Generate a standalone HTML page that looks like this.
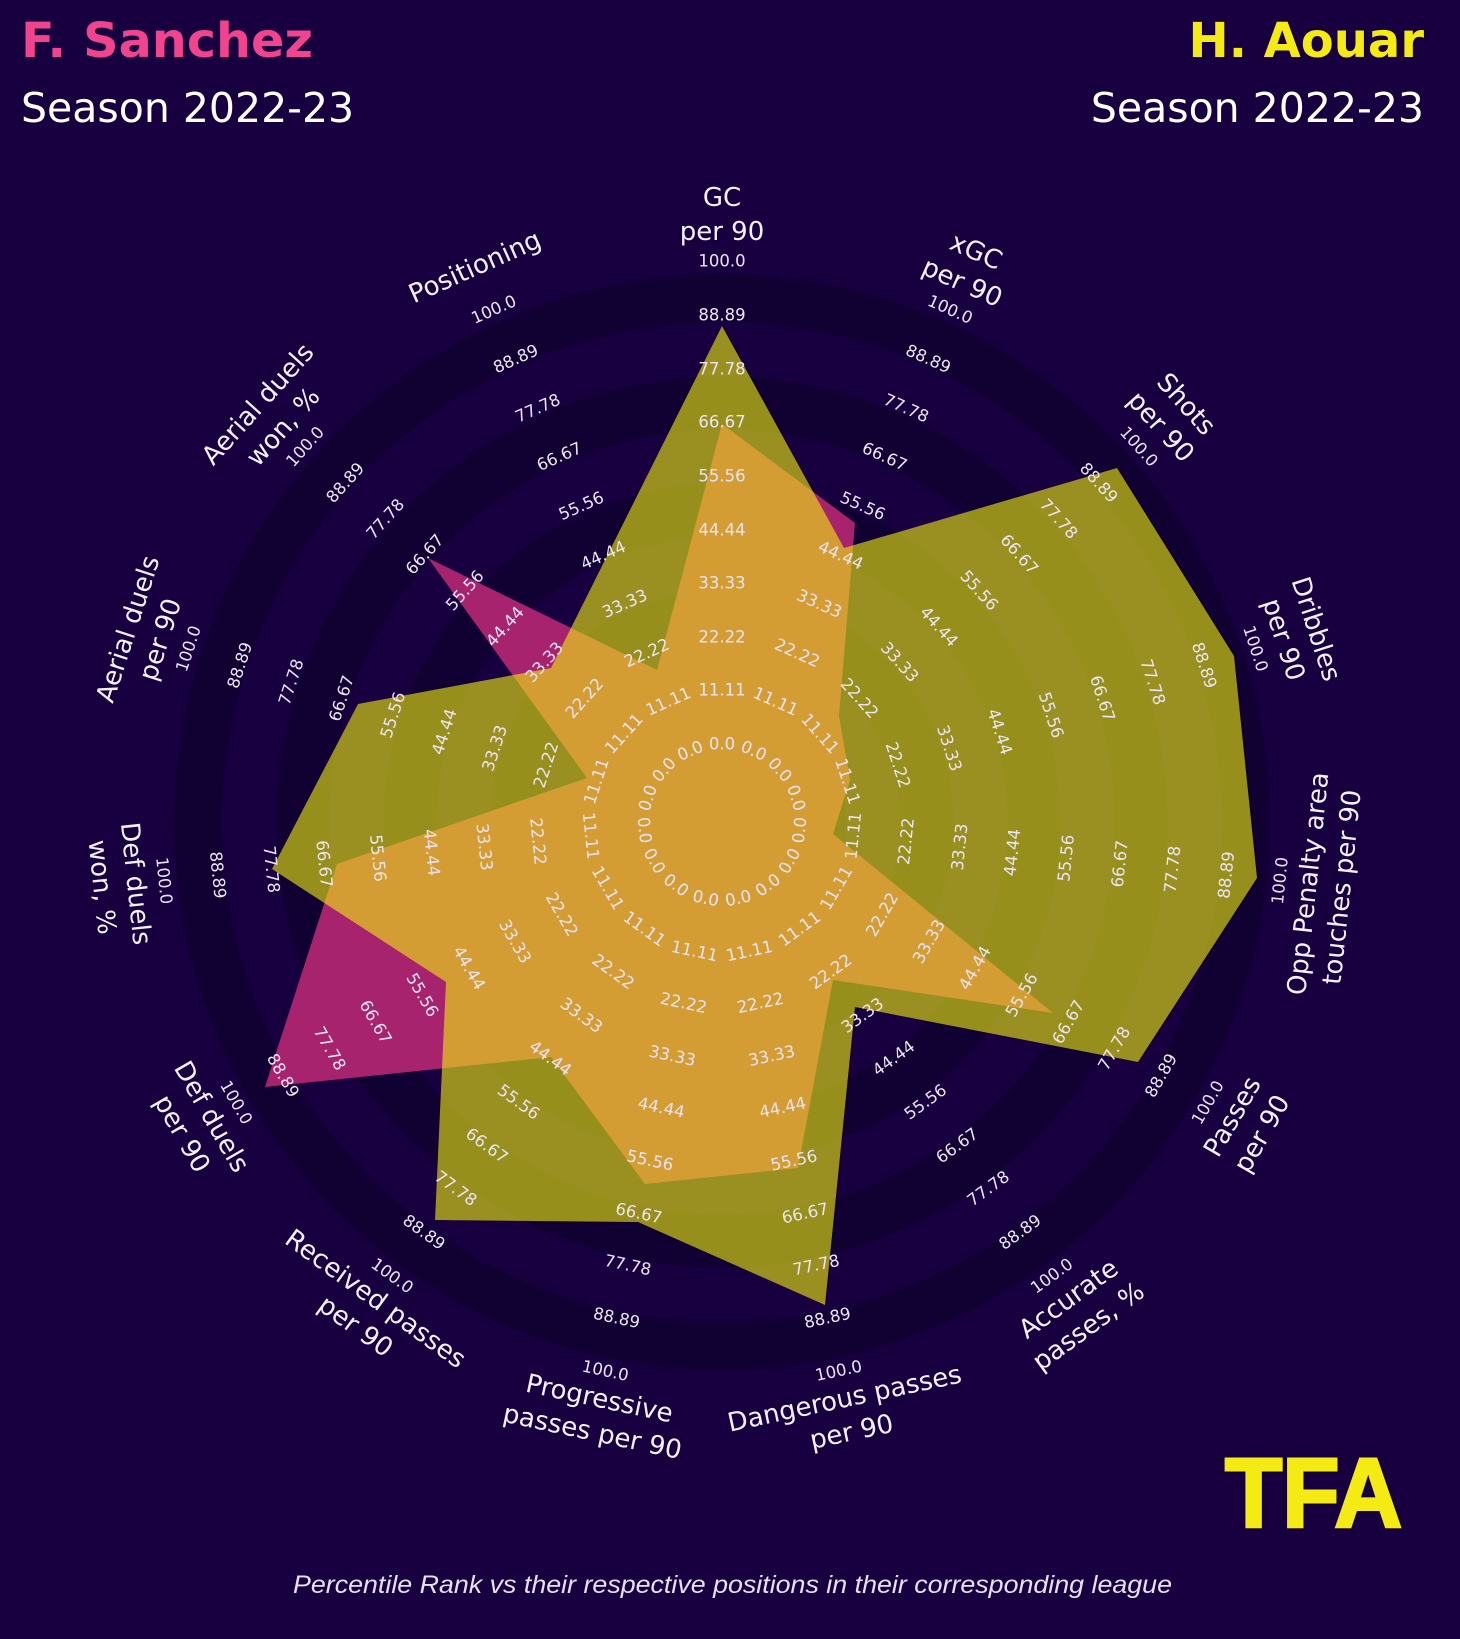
<!DOCTYPE html>
<html><head><meta charset="utf-8"><style>
html,body{margin:0;padding:0;background:#180040;}
svg{display:block;}
.r{font-family:"DejaVu Sans",sans-serif;font-size:16.5px;fill:#ece4f4;text-anchor:middle;dominant-baseline:central;}
.t{font-family:"DejaVu Sans",sans-serif;font-size:26px;fill:#f4f0fa;text-anchor:middle;dominant-baseline:central;}
</style></head><body>
<svg width="1460" height="1639" viewBox="0 0 1460 1639" xmlns="http://www.w3.org/2000/svg">
<rect width="1460" height="1639" fill="#180040"/>
<g fill="none" stroke="#110032">
<circle cx="722" cy="822" r="524" stroke-width="48"/>
<circle cx="722" cy="822" r="419" stroke-width="53"/>
<circle cx="722" cy="822" r="312" stroke-width="53"/>
<circle cx="722" cy="822" r="205" stroke-width="53"/>
<circle cx="722" cy="822" r="98" stroke-width="53"/>
</g>
<polygon fill="#a8236e" points="722,424 855,523 839,716 850,780 833,834 1053,1013 833,980 798,1168 645,1184 551,1057 265,1087 337,864 587,778 428,558 657,670"/>
<polygon fill="#f2ee0d" fill-opacity="0.6" points="722,326 844,548 1117,468 1234,656 1257,878 1138,1062 855,1007 825,1305 638,1222 435,1220 446,982 272,869 358,704 551,668 605,560"/>

<text x="21" y="57" font-family="DejaVu Sans,sans-serif" font-weight="bold" font-size="48" fill="#f0448f" textLength="292" lengthAdjust="spacingAndGlyphs">F. Sanchez</text>
<text x="21" y="122" font-family="DejaVu Sans,sans-serif" font-size="41" fill="#ffffff">Season 2022-23</text>
<text x="1424" y="57" font-family="DejaVu Sans,sans-serif" font-weight="bold" font-size="48" fill="#f5eb14" text-anchor="end">H. Aouar</text>
<text x="1424" y="122" font-family="DejaVu Sans,sans-serif" font-size="41" fill="#ffffff" text-anchor="end">Season 2022-23</text>

<g transform="rotate(0,722,822)">
<text class="r" x="722" y="744">0.0</text><text class="r" x="722" y="690">11.11</text><text class="r" x="722" y="637">22.22</text><text class="r" x="722" y="583">33.33</text><text class="r" x="722" y="530">44.44</text><text class="r" x="722" y="476">55.56</text><text class="r" x="722" y="422">66.67</text><text class="r" x="722" y="369">77.78</text><text class="r" x="722" y="315">88.89</text><text class="r" x="722" y="261">100.0</text>
<text class="t" x="722" y="198">GC</text><text class="t" x="722" y="232">per 90</text></g>
<g transform="rotate(24,722,822)">
<text class="r" x="722" y="744">0.0</text><text class="r" x="722" y="690">11.11</text><text class="r" x="722" y="637">22.22</text><text class="r" x="722" y="583">33.33</text><text class="r" x="722" y="530">44.44</text><text class="r" x="722" y="476">55.56</text><text class="r" x="722" y="422">66.67</text><text class="r" x="722" y="369">77.78</text><text class="r" x="722" y="315">88.89</text><text class="r" x="722" y="261">100.0</text>
<text class="t" x="722" y="198">xGC</text><text class="t" x="722" y="232">per 90</text></g>
<g transform="rotate(48,722,822)">
<text class="r" x="722" y="744">0.0</text><text class="r" x="722" y="690">11.11</text><text class="r" x="722" y="637">22.22</text><text class="r" x="722" y="583">33.33</text><text class="r" x="722" y="530">44.44</text><text class="r" x="722" y="476">55.56</text><text class="r" x="722" y="422">66.67</text><text class="r" x="722" y="369">77.78</text><text class="r" x="722" y="315">88.89</text><text class="r" x="722" y="261">100.0</text>
<text class="t" x="722" y="198">Shots</text><text class="t" x="722" y="232">per 90</text></g>
<g transform="rotate(72,722,822)">
<text class="r" x="722" y="744">0.0</text><text class="r" x="722" y="690">11.11</text><text class="r" x="722" y="637">22.22</text><text class="r" x="722" y="583">33.33</text><text class="r" x="722" y="530">44.44</text><text class="r" x="722" y="476">55.56</text><text class="r" x="722" y="422">66.67</text><text class="r" x="722" y="369">77.78</text><text class="r" x="722" y="315">88.89</text><text class="r" x="722" y="261">100.0</text>
<text class="t" x="722" y="198">Dribbles</text><text class="t" x="722" y="232">per 90</text></g>
<g transform="rotate(288,722,822)">
<text class="r" x="722" y="744">0.0</text><text class="r" x="722" y="690">11.11</text><text class="r" x="722" y="637">22.22</text><text class="r" x="722" y="583">33.33</text><text class="r" x="722" y="530">44.44</text><text class="r" x="722" y="476">55.56</text><text class="r" x="722" y="422">66.67</text><text class="r" x="722" y="369">77.78</text><text class="r" x="722" y="315">88.89</text><text class="r" x="722" y="261">100.0</text>
<text class="t" x="722" y="198">Aerial duels</text><text class="t" x="722" y="232">per 90</text></g>
<g transform="rotate(312,722,822)">
<text class="r" x="722" y="744">0.0</text><text class="r" x="722" y="690">11.11</text><text class="r" x="722" y="637">22.22</text><text class="r" x="722" y="583">33.33</text><text class="r" x="722" y="530">44.44</text><text class="r" x="722" y="476">55.56</text><text class="r" x="722" y="422">66.67</text><text class="r" x="722" y="369">77.78</text><text class="r" x="722" y="315">88.89</text><text class="r" x="722" y="261">100.0</text>
<text class="t" x="722" y="198">Aerial duels</text><text class="t" x="722" y="232">won, %</text></g>
<g transform="rotate(336,722,822)">
<text class="r" x="722" y="744">0.0</text><text class="r" x="722" y="690">11.11</text><text class="r" x="722" y="637">22.22</text><text class="r" x="722" y="583">33.33</text><text class="r" x="722" y="530">44.44</text><text class="r" x="722" y="476">55.56</text><text class="r" x="722" y="422">66.67</text><text class="r" x="722" y="369">77.78</text><text class="r" x="722" y="315">88.89</text><text class="r" x="722" y="261">100.0</text>
<text class="t" x="722" y="215">Positioning</text></g>

<g transform="rotate(-84,722,822)">
<text class="r" x="722" y="900">0.0</text><text class="r" x="722" y="954">11.11</text><text class="r" x="722" y="1007">22.22</text><text class="r" x="722" y="1061">33.33</text><text class="r" x="722" y="1114">44.44</text><text class="r" x="722" y="1168">55.56</text><text class="r" x="722" y="1222">66.67</text><text class="r" x="722" y="1275">77.78</text><text class="r" x="722" y="1329">88.89</text><text class="r" x="722" y="1383">100.0</text>
<text class="t" x="722" y="1412">Opp Penalty area</text><text class="t" x="722" y="1446">touches per 90</text></g>
<g transform="rotate(-60,722,822)">
<text class="r" x="722" y="900">0.0</text><text class="r" x="722" y="954">11.11</text><text class="r" x="722" y="1007">22.22</text><text class="r" x="722" y="1061">33.33</text><text class="r" x="722" y="1114">44.44</text><text class="r" x="722" y="1168">55.56</text><text class="r" x="722" y="1222">66.67</text><text class="r" x="722" y="1275">77.78</text><text class="r" x="722" y="1329">88.89</text><text class="r" x="722" y="1383">100.0</text>
<text class="t" x="722" y="1412">Passes</text><text class="t" x="722" y="1446">per 90</text></g>
<g transform="rotate(-36,722,822)">
<text class="r" x="722" y="900">0.0</text><text class="r" x="722" y="954">11.11</text><text class="r" x="722" y="1007">22.22</text><text class="r" x="722" y="1061">33.33</text><text class="r" x="722" y="1114">44.44</text><text class="r" x="722" y="1168">55.56</text><text class="r" x="722" y="1222">66.67</text><text class="r" x="722" y="1275">77.78</text><text class="r" x="722" y="1329">88.89</text><text class="r" x="722" y="1383">100.0</text>
<text class="t" x="722" y="1412">Accurate</text><text class="t" x="722" y="1446">passes, %</text></g>
<g transform="rotate(-12,722,822)">
<text class="r" x="722" y="900">0.0</text><text class="r" x="722" y="954">11.11</text><text class="r" x="722" y="1007">22.22</text><text class="r" x="722" y="1061">33.33</text><text class="r" x="722" y="1114">44.44</text><text class="r" x="722" y="1168">55.56</text><text class="r" x="722" y="1222">66.67</text><text class="r" x="722" y="1275">77.78</text><text class="r" x="722" y="1329">88.89</text><text class="r" x="722" y="1383">100.0</text>
<text class="t" x="722" y="1412">Dangerous passes</text><text class="t" x="722" y="1446">per 90</text></g>
<g transform="rotate(12,722,822)">
<text class="r" x="722" y="900">0.0</text><text class="r" x="722" y="954">11.11</text><text class="r" x="722" y="1007">22.22</text><text class="r" x="722" y="1061">33.33</text><text class="r" x="722" y="1114">44.44</text><text class="r" x="722" y="1168">55.56</text><text class="r" x="722" y="1222">66.67</text><text class="r" x="722" y="1275">77.78</text><text class="r" x="722" y="1329">88.89</text><text class="r" x="722" y="1383">100.0</text>
<text class="t" x="722" y="1412">Progressive</text><text class="t" x="722" y="1446">passes per 90</text></g>
<g transform="rotate(36,722,822)">
<text class="r" x="722" y="900">0.0</text><text class="r" x="722" y="954">11.11</text><text class="r" x="722" y="1007">22.22</text><text class="r" x="722" y="1061">33.33</text><text class="r" x="722" y="1114">44.44</text><text class="r" x="722" y="1168">55.56</text><text class="r" x="722" y="1222">66.67</text><text class="r" x="722" y="1275">77.78</text><text class="r" x="722" y="1329">88.89</text><text class="r" x="722" y="1383">100.0</text>
<text class="t" x="722" y="1412">Received passes</text><text class="t" x="722" y="1446">per 90</text></g>
<g transform="rotate(60,722,822)">
<text class="r" x="722" y="900">0.0</text><text class="r" x="722" y="954">11.11</text><text class="r" x="722" y="1007">22.22</text><text class="r" x="722" y="1061">33.33</text><text class="r" x="722" y="1114">44.44</text><text class="r" x="722" y="1168">55.56</text><text class="r" x="722" y="1222">66.67</text><text class="r" x="722" y="1275">77.78</text><text class="r" x="722" y="1329">88.89</text><text class="r" x="722" y="1383">100.0</text>
<text class="t" x="722" y="1412">Def duels</text><text class="t" x="722" y="1446">per 90</text></g>
<g transform="rotate(84,722,822)">
<text class="r" x="722" y="900">0.0</text><text class="r" x="722" y="954">11.11</text><text class="r" x="722" y="1007">22.22</text><text class="r" x="722" y="1061">33.33</text><text class="r" x="722" y="1114">44.44</text><text class="r" x="722" y="1168">55.56</text><text class="r" x="722" y="1222">66.67</text><text class="r" x="722" y="1275">77.78</text><text class="r" x="722" y="1329">88.89</text><text class="r" x="722" y="1383">100.0</text>
<text class="t" x="722" y="1412">Def duels</text><text class="t" x="722" y="1446">won, %</text></g>

<text x="1225" y="1527" font-family="Liberation Sans,sans-serif" font-weight="bold" font-size="98" fill="#f5eb14" stroke="#f5eb14" stroke-width="3" textLength="177" lengthAdjust="spacingAndGlyphs">TFA</text>
<text x="293" y="1593" font-family="Liberation Sans,sans-serif" font-style="italic" font-size="25" fill="#e6e0f0" textLength="879" lengthAdjust="spacingAndGlyphs">Percentile Rank vs their respective positions in their corresponding league</text>
</svg>
</body></html>
